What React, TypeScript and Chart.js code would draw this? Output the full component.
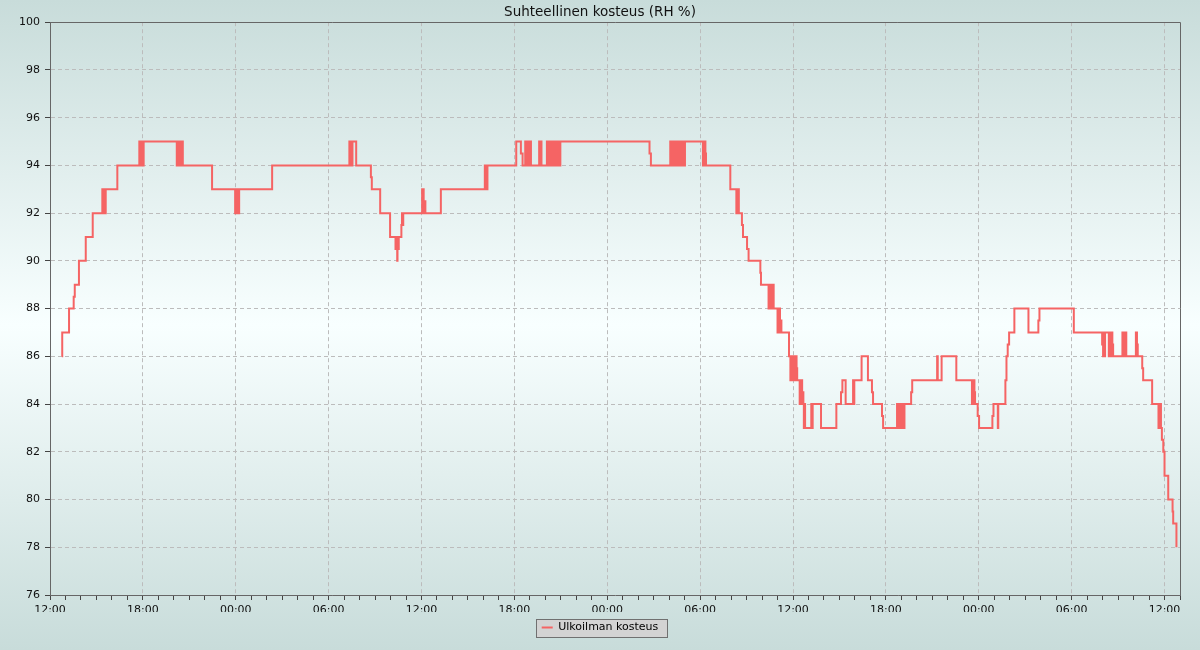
import React, { useEffect, useRef } from 'react';
import { Chart, registerables } from 'chart.js';

Chart.register(...registerables);

// ---- Data ----
const TITLE = 'Suhteellinen kosteus (RH %)';
const SERIES_LABEL = 'Ulkoilman kosteus';

// Hours after the first 12:00 on the axis (value changes at these times)
const HOURS: number[] = [
  0.76, 0.79, 1.23, 1.53, 1.6, 1.87, 2.31, 2.76,
  3.38, 3.42, 3.46, 3.5, 3.54, 3.57, 3.6,
  4.35,
  5.77, 5.82, 5.87, 5.92, 5.97, 6.01, 6.05,
  8.19, 8.24, 8.29, 8.34, 8.39, 8.44, 8.49, 8.54, 8.58,
  10.47,
  11.96, 12.01, 12.06, 12.11, 12.16, 12.22,
  14.35,
  19.34, 19.43, 19.54, 19.78,
  20.73, 20.79, 21.33, 21.97,
  22.32, 22.36, 22.4, 22.43, 22.45, 22.49, 22.53,
  22.7, 22.74, 22.78, 22.82,
  24.04, 24.07, 24.1, 24.14, 24.18, 24.25,
  25.25,
  28.09, 28.13, 28.17, 28.21, 28.26,
  30.12, 30.42, 30.53,
  30.7, 30.74, 30.78, 30.82, 30.86, 30.9, 30.94, 30.98, 31.02, 31.07,
  31.6, 31.65, 31.7, 31.75,
  32.1, 32.14, 32.18, 32.3, 32.34, 32.38, 32.42, 32.46, 32.5, 32.54, 32.58, 32.62, 32.66, 32.7, 32.74, 32.78, 32.82, 32.86, 32.9, 32.94, 32.97,
  38.73, 38.82,
  40.07, 40.11, 40.15, 40.19, 40.23, 40.27, 40.31, 40.35, 40.39, 40.43, 40.47, 40.51, 40.55, 40.59, 40.63, 40.67, 40.71, 40.75, 40.79, 40.83, 40.87, 40.91, 40.95, 40.99, 41.02,
  42.18, 42.22, 42.26, 42.3, 42.34, 42.38,
  43.95,
  44.34, 44.38, 44.42, 44.46, 44.5,
  44.7, 44.77, 45.03, 45.13, 45.89, 45.93,
  46.42, 46.46, 46.5, 46.54, 46.58, 46.62, 46.66, 46.72, 46.75,
  47.0, 47.04, 47.08, 47.12, 47.16, 47.2, 47.25,
  47.74,
  47.83, 47.87, 47.91, 47.95, 47.99, 48.03, 48.07, 48.11, 48.15, 48.19, 48.23, 48.27,
  48.43, 48.47, 48.51, 48.55, 48.59, 48.63, 48.67,
  48.7, 48.74, 48.78,
  49.18, 49.22, 49.27,
  49.81, 50.8, 51.1, 51.19, 51.4,
  51.88, 51.92, 51.96,
  52.43, 52.84, 53.1, 53.17, 53.75, 53.82,
  54.72, 54.8, 54.88, 54.92, 55.0, 55.04, 55.1, 55.14, 55.2,
  55.63, 55.7,
  57.31, 57.35, 57.6, 58.55,
  59.56, 59.6, 59.64, 59.68, 59.72, 59.76,
  59.93, 60.02, 60.88, 60.95, 61.23, 61.26,
  61.72, 61.79, 61.87, 61.96,
  62.3, 63.21, 63.85, 63.92, 66.14,
  67.97, 68.03, 68.07, 68.11, 68.16,
  68.4, 68.44, 68.48,
  68.57, 68.63, 68.68,
  69.28, 69.32, 69.36, 69.4, 69.49, 69.53,
  70.15, 70.22, 70.27,
  70.56, 70.62, 71.2,
  71.61, 71.65, 71.69, 71.73, 71.77,
  71.83, 71.92, 72.0, 72.24, 72.52, 72.56, 72.77,
];

const RH: number[] = [
  86, 87, 88, 88.5, 89, 90, 91, 92,
  93, 92, 93, 92, 93, 92, 93,
  94,
  95, 94, 95, 94, 95, 94, 95,
  94, 95, 94, 95, 94, 95, 94, 95, 94,
  93,
  92, 93, 92, 93, 92, 93,
  94,
  95, 94, 95, 94,
  93.5, 93, 92, 91,
  90.5, 91, 90.5, 90, 91, 90.5, 91,
  91.5, 92, 91.5, 92,
  93, 92, 93, 92, 92.5, 92,
  93,
  94, 93, 94, 93, 94,
  95, 94.5, 94,
  95, 94, 95, 94, 95, 94, 95, 94, 95, 94,
  95, 94, 95, 94,
  95, 94, 95, 94, 95, 94, 95, 94, 95, 94, 95, 94, 95, 94, 95, 94, 95, 94, 95, 94, 95,
  94.5, 94,
  95, 94, 95, 94, 95, 94, 95, 94, 95, 94, 95, 94, 95, 94, 95, 94, 95, 94, 95, 94, 95, 94, 95, 94, 95,
  94, 95, 94, 95, 94.5, 94,
  93,
  92, 93, 92, 93, 92,
  91.5, 91, 90.5, 90, 89.5, 89,
  88, 89, 88, 89, 88, 89, 88, 89, 88,
  87, 88, 87, 88, 87, 87.5, 87,
  86,
  85, 86, 85, 86, 85, 86, 85, 86, 85, 86, 85.5, 85,
  84, 85, 84.5, 85, 84, 84.5, 84,
  83, 84, 83,
  84, 83, 84,
  83, 84, 84.5, 85, 84,
  85, 84, 85,
  86, 85, 84.5, 84, 83.5, 83,
  84, 83, 84, 83, 84, 83, 84, 83, 84,
  84.5, 85,
  86, 85, 86, 85,
  84, 85, 84, 85, 84.5, 84,
  83.5, 83, 83.5, 84, 83, 84,
  85, 86, 86.5, 87,
  88, 87, 87.5, 88, 87,
  86.5, 86, 87, 86, 87,
  86, 87, 86,
  87, 86.5, 86,
  87, 86, 87, 86, 87, 86,
  87, 86.5, 86,
  85.5, 85, 84,
  83, 84, 83, 84, 83,
  82.5, 82, 81, 80, 79.5, 79, 78,
];

const X_TICK_LABELS = ['12:00', '18:00', '00:00', '06:00'];
const X_MAX_HOURS = 73;
const Y_MIN = 76;
const Y_MAX = 100;
const Y_STEP = 2;

// ---- Styles ----
const LINE_COLOR = '#f56464';
const GRID_COLOR = '#bcbcbc';
const AXIS_COLOR = '#666666';
const TICK_COLOR = '#444444';
const TEXT_COLOR = '#111111';

Chart.defaults.font.family = '"DejaVu Sans", sans-serif';
Chart.defaults.font.size = 11;
Chart.defaults.color = TEXT_COLOR;

const PLOT_BOTTOM = 595;
const LAYOUT_BOTTOM = 7;

const decorPlugin = {
  id: 'decor',
  beforeDraw(chart: any) {
    const { ctx, width, height } = chart;
    ctx.save();
    const g = ctx.createLinearGradient(0, 0, 0, height);
    g.addColorStop(0, '#c8dcda');
    g.addColorStop(0.5, '#f8ffff');
    g.addColorStop(1, '#c8dcda');
    ctx.fillStyle = g;
    ctx.fillRect(0, 0, width, height);
    const lg = chart.legend;
    if (lg && lg.legendHitBoxes && lg.legendHitBoxes.length) {
      const hb = lg.legendHitBoxes[0];
      const cy = hb.top + hb.height / 2;
      const x = Math.round(hb.left - 6) + 0.5;
      const y = Math.round(cy - 9) + 0.5;
      const w = Math.round(hb.width + 14);
      ctx.fillStyle = '#d3d3d3';
      ctx.fillRect(x, y, w, 18);
      ctx.strokeStyle = '#707070';
      ctx.lineWidth = 1;
      ctx.strokeRect(x, y, w, 18);
    }
    ctx.restore();
  },
  afterDraw(chart: any) {
    const { ctx, chartArea } = chart;
    ctx.save();
    ctx.strokeStyle = AXIS_COLOR;
    ctx.lineWidth = 1;
    const t = Math.round(chartArea.top) + 0.5;
    const r = Math.round(chartArea.right) + 0.5;
    ctx.beginPath();
    ctx.moveTo(chartArea.left, t);
    ctx.lineTo(r, t);
    ctx.lineTo(r, chartArea.bottom);
    ctx.stroke();
    ctx.restore();
  },
};

export default function App() {
  const ref = useRef<HTMLCanvasElement | null>(null);

  useEffect(() => {
    if (!ref.current) return;
    const points = HOURS.map((h, i) => ({ x: h, y: RH[i] }));
    const chart = new Chart(ref.current, {
      type: 'line',
      data: {
        datasets: [
          {
            label: SERIES_LABEL,
            data: points,
            borderColor: LINE_COLOR,
            backgroundColor: LINE_COLOR,
            borderWidth: 2,
            pointRadius: 0,
            stepped: true,
            fill: false,
          },
        ],
      },
      options: {
        responsive: false,
        animation: false,
        events: [],
        layout: { padding: { left: 0, right: 0, top: 0, bottom: LAYOUT_BOTTOM } },
        plugins: {
          title: {
            display: true,
            text: TITLE,
            color: TEXT_COLOR,
            font: { size: 13.5, weight: 'normal' },
            padding: { top: 4, bottom: 2 },
          },
          legend: {
            display: true,
            position: 'bottom',
            labels: {
              boxWidth: 11,
              boxHeight: 2,
              padding: 10,
              color: TEXT_COLOR,
              font: { size: 11 },
              generateLabels: () => [
                {
                  text: SERIES_LABEL,
                  fillStyle: LINE_COLOR,
                  strokeStyle: LINE_COLOR,
                  lineWidth: 0,
                  hidden: false,
                  datasetIndex: 0,
                } as any,
              ],
            },
          },
          tooltip: { enabled: false },
        },
        scales: {
          x: {
            type: 'linear',
            min: 0,
            max: X_MAX_HOURS,
            ticks: {
              stepSize: 1,
              autoSkip: false,
              maxRotation: 0,
              minRotation: 0,
              padding: 4,
              color: TEXT_COLOR,
              callback: (v: any) => {
                const n = Math.round(Number(v));
                return n % 6 === 0 ? X_TICK_LABELS[(n / 6) % 4] : '';
              },
            },
            grid: {
              color: (c: any) =>
                c.tick && Math.round(c.tick.value) % 6 === 0 ? GRID_COLOR : 'rgba(0,0,0,0)',
              tickColor: TICK_COLOR,
              tickLength: 5,
              lineWidth: 1,
            },
            border: { color: AXIS_COLOR, dash: [4, 3] },
            afterFit: (s: any) => {
              const lh = s.chart.legend ? s.chart.legend.height : 31;
              s.height = 650 - PLOT_BOTTOM - LAYOUT_BOTTOM - lh;
            },
          },
          y: {
            type: 'linear',
            min: Y_MIN,
            max: Y_MAX,
            ticks: { stepSize: Y_STEP, padding: 5, color: TEXT_COLOR },
            grid: { color: GRID_COLOR, tickColor: TICK_COLOR, tickLength: 5, lineWidth: 1 },
            border: { color: AXIS_COLOR, dash: [4, 3] },
            afterFit: (s: any) => {
              s.width = 50;
            },
          },
          yR: {
            type: 'linear',
            position: 'right',
            min: 0,
            max: 1,
            display: true,
            ticks: { display: false },
            grid: { display: false, drawTicks: false },
            border: { display: false },
            afterFit: (s: any) => {
              s.width = 20;
            },
          },
        },
      } as any,
      plugins: [decorPlugin],
    });
    return () => chart.destroy();
  }, []);

  return (
    <div style={{ position: 'absolute', left: 0, top: 0, width: 1200, height: 650 }}>
      <canvas ref={ref} width={1200} height={650} style={{ display: 'block' }} />
    </div>
  );
}
